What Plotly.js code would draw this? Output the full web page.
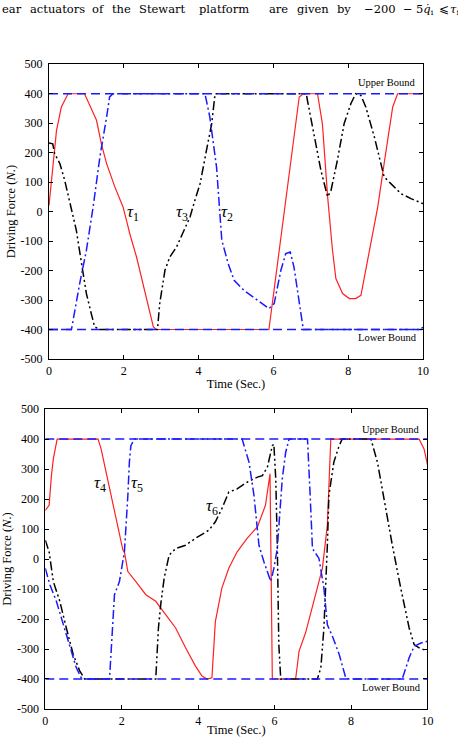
<!DOCTYPE html>
<html>
<head>
<meta charset="utf-8">
<script src="https://cdn.plot.ly/plotly-3.0.1.min.js"></script>
<style>html,body{margin:0;padding:0;background:#fff;}#chart{width:458px;height:737px;}</style>
</head>
<body>
<div id="chart"></div>
<script>
// ---- Top panel: tau1, tau2, tau3 ----
const tau1T = [0, 0.2, 0.33, 0.51, 0.95, 1.13, 1.27, 1.4, 1.54, 1.76, 1.98, 2.07, 2.16, 2.34, 2.6, 2.7, 2.79, 2.87, 5.88, 6.69, 6.8, 7.18, 7.31, 7.45, 7.58, 7.67, 7.85, 8.03, 8.2, 8.34, 8.47, 8.65, 8.79, 8.96, 9.19, 9.32, 10];
const tau1V = [21, 275, 355, 400, 400, 350, 310, 230, 163, 84, 16, -29, -75, -154, -290, -346, -391, -400, -400, 389, 400, 400, 298, 50, -131, -227, -278, -295, -295, -284, -199, -69, 16, 163, 355, 400, 400];

const tau2T = [0, 0.6, 0.82, 1.0, 1.18, 1.36, 1.54, 1.62, 1.71, 4.17, 4.3, 4.48, 4.62, 4.79, 4.95, 5.21, 5.57, 5.88, 6.02, 6.2, 6.33, 6.45, 6.55, 6.69, 6.8, 9.9, 10];
const tau2V = [-400, -400, -244, -131, 16, 185, 321, 389, 400, 400, 321, 151, -97, -176, -233, -267, -300, -329, -312, -199, -142, -137, -188, -312, -400, -400, -393];

const tau3T = [0, 0.1, 0.15, 0.29, 0.42, 0.55, 0.73, 0.87, 1.0, 1.13, 1.22, 1.36, 2.9, 2.96, 3.1, 3.23, 3.41, 3.59, 3.77, 3.9, 4.04, 4.21, 4.35, 4.44, 6.88, 6.91, 7.09, 7.27, 7.45, 7.54, 7.71, 7.89, 8.07, 8.2, 8.34, 8.47, 8.7, 8.87, 8.96, 9.14, 9.41, 9.68, 10];
const tau3V = [233, 230, 197, 163, 106, 38, -63, -176, -278, -346, -391, -400, -400, -312, -199, -154, -120, -69, -18, 38, 95, 208, 298, 400, 400, 377, 253, 140, 50, 72, 174, 298, 366, 400, 394, 355, 253, 163, 118, 95, 61, 44, 27];

// ---- Bottom panel: tau4, tau5, tau6 ----
const tau4T = [0, 0.1, 0.16, 0.21, 0.31, 1.38, 1.46, 1.59, 1.77, 1.94, 2.03, 2.07, 2.16, 2.37, 2.63, 2.89, 3.15, 3.41, 3.67, 3.93, 4.1, 4.23, 4.36, 4.45, 4.62, 4.8, 5.02, 5.28, 5.55, 5.76, 5.88, 5.94, 6.55, 6.64, 6.81, 7.03, 7.25, 7.38, 7.47, 9.78, 9.91, 10];
const tau4V = [162, 179, 278, 334, 400, 400, 367, 290, 179, 80, 30, 24, -42, -75, -119, -141, -186, -230, -296, -357, -390, -400, -396, -208, -97, -31, 24, 69, 107, 179, 284, -400, -400, -307, -246, -141, -31, 113, 400, 400, 367, 315];

const tau5T = [0, 0.12, 0.29, 0.47, 0.64, 0.81, 0.94, 1.03, 1.68, 1.81, 1.94, 2.07, 2.16, 2.2, 2.24, 2.33, 5.15, 5.33, 5.46, 5.59, 5.72, 5.9, 5.98, 6.07, 6.2, 6.29, 6.38, 6.86, 6.93, 6.99, 7.16, 7.29, 7.38, 7.51, 7.69, 7.86, 7.95, 9.34, 9.52, 9.65, 9.83, 10];
const tau5V = [-31, -86, -141, -219, -296, -362, -396, -400, -400, -119, -75, 24, 212, 323, 378, 400, 400, 323, 212, 46, -9, -75, -31, 35, 267, 356, 400, 400, 212, 35, 2, -97, -219, -257, -318, -396, -400, -400, -329, -291, -280, -274];

const tau6T = [0, 0.1, 0.21, 0.38, 0.55, 0.73, 0.9, 1.03, 2.89, 2.96, 3.02, 3.11, 3.24, 3.41, 3.67, 3.93, 4.28, 4.45, 4.62, 4.8, 5.02, 5.28, 5.55, 5.68, 5.81, 5.94, 5.98, 6.03, 6.07, 6.11, 6.16, 7.12, 7.21, 7.29, 7.38, 7.42, 7.55, 7.69, 7.77, 8.52, 8.69, 8.86, 9.08, 9.3, 9.52, 9.65, 9.78, 10];
const tau6V = [63, 24, -75, -141, -230, -318, -373, -400, -400, -230, -152, -64, 13, 35, 46, 69, 96, 124, 168, 223, 234, 256, 273, 278, 306, 378, 383, 267, 46, -285, -400, -400, -362, -230, 46, 212, 323, 378, 400, 400, 323, 201, 46, -97, -230, -285, -296, -307];

// ---- Bounds ----
const boundT = [0, 10];
const upperBound = [400, 400];
const lowerBound = [-400, -400];

// ---- Ticks ----
const xTicks = [0, 2, 4, 6, 8, 10];
const xTickText = ["0", "2", "4", "6", "8", "10"];
const yTicks = [-500, -400, -300, -200, -100, 0, 100, 200, 300, 400, 500];
const yTickText = ["-500", "-400", "-300", "-200", "-100", "0", "100", "200", "300", "400", "500"];

// ---- Header sentence (justified words) ----
const headerWords = ["ear", "actuators", "of", "the", "Stewart", "platform", "are", "given", "by",
                     "−200", "−", "5<i>q̇</i><sub>i</sub>", "⩽", "<i>τ</i><sub>i</sub>"];
const headerLeftPx = [0, 28, 90, 110, 137, 197, 267, 295, 335, 362, 401, 414, 437, 448];

const FONT = "Liberation Serif";
const HFONT = "DejaVu Serif";
const RED = "#ff2020";
const BLUE = "#1a1aff";
const BLACK = "#000000";
const dashDot = "9px,3px,2px,3px";
const dashDotDot = "9px,3px,2px,3px,2px,3px";
const dashed = "9px,5px";

function tr(x, y, color, dash, w, xa, ya) {
  return {x: x, y: y, xaxis: xa, yaxis: ya, mode: "lines", hoverinfo: "skip",
          line: {color: color, dash: dash, width: w}, showlegend: false};
}

const data = [
  tr(tau1T, tau1V, RED, "solid", 1.2, "x", "y"),
  tr(tau3T, tau3V, BLACK, dashDotDot, 1.5, "x", "y"),
  tr(tau2T, tau2V, BLUE, dashDot, 1.5, "x", "y"),
  tr(boundT, upperBound, BLUE, dashed, 1.5, "x", "y"),
  tr(boundT, lowerBound, BLUE, dashed, 1.5, "x", "y"),
  tr(tau4T, tau4V, RED, "solid", 1.2, "x2", "y2"),
  tr(tau6T, tau6V, BLACK, dashDotDot, 1.5, "x2", "y2"),
  tr(tau5T, tau5V, BLUE, dashDot, 1.5, "x2", "y2"),
  tr(boundT, upperBound, BLUE, dashed, 1.5, "x2", "y2"),
  tr(boundT, lowerBound, BLUE, dashed, 1.5, "x2", "y2")
];

function xax(domain, anchor) {
  return {domain: domain, anchor: anchor, range: [0, 10], tickvals: xTicks, ticktext: xTickText,
          ticks: "inside", ticklen: 4, tickcolor: "#000", showline: true, linecolor: "#000", linewidth: 1,
          mirror: "ticks", showgrid: false, zeroline: false, ticklabelstandoff: 1,
          tickfont: {family: FONT, size: 12, color: "#000"},
          title: {text: "Time (Sec.)", font: {family: FONT, size: 12.5, color: "#000"}, standoff: 1}};
}
function yax(domain, anchor) {
  return {domain: domain, anchor: anchor, range: [-500, 500], tickvals: yTicks, ticktext: yTickText,
          ticks: "inside", ticklen: 4, tickcolor: "#000", showline: true, linecolor: "#000", linewidth: 1,
          mirror: "ticks", showgrid: false, zeroline: false, ticklabelstandoff: 3,
          tickfont: {family: FONT, size: 12, color: "#000"},
          title: {text: "Driving Force (<i>N</i>.)", font: {family: FONT, size: 12.5, color: "#000"}, standoff: 2}};
}

function tauNote(x, y, n, xr, yr) {
  return {x: x, y: y, xref: xr, yref: yr, text: "<i>τ</i><sub>" + n + "</sub>", showarrow: false,
          font: {family: FONT, size: 17, color: "#000"}};
}
function boundNote(y, txt, xr, yr) {
  return {x: 9.05, y: y, xref: xr, yref: yr, text: txt, showarrow: false,
          font: {family: FONT, size: 10.5, color: "#000"}};
}

const W = 458, H = 737;
const headerNotes = headerWords.map((w, i) => ({
  x: headerLeftPx[i] / W, y: 1 - 9 / H, xref: "paper", yref: "paper",
  xanchor: "left", yanchor: "middle", showarrow: false, text: w,
  font: {family: HFONT, size: 11.5, color: "#000"}
}));

const layout = {
  width: W, height: H,
  margin: {l: 0, r: 0, t: 0, b: 0},
  paper_bgcolor: "#fff", plot_bgcolor: "#fff",
  showlegend: false,
  xaxis: xax([0.107, 0.9236], "y"),
  yaxis: yax([0.5129, 0.9128], "x"),
  xaxis2: xax([0.0989, 0.9334], "y2"),
  yaxis2: yax([0.038, 0.445], "x2"),
  annotations: headerNotes.concat([
    tauNote(2.25, -5, 1, "x", "y"),
    tauNote(3.55, -5, 3, "x", "y"),
    tauNote(4.75, -5, 2, "x", "y"),
    boundNote(437, "Upper Bound", "x", "y"),
    boundNote(-428, "Lower Bound", "x", "y"),
    tauNote(1.42, 250, 4, "x2", "y2"),
    tauNote(2.4, 250, 5, "x2", "y2"),
    tauNote(4.36, 175, 6, "x2", "y2"),
    boundNote(433, "Upper Bound", "x2", "y2"),
    boundNote(-430, "Lower Bound", "x2", "y2")
  ])
};

Plotly.newPlot("chart", data, layout, {staticPlot: true, displayModeBar: false});
</script>
</body>
</html>
